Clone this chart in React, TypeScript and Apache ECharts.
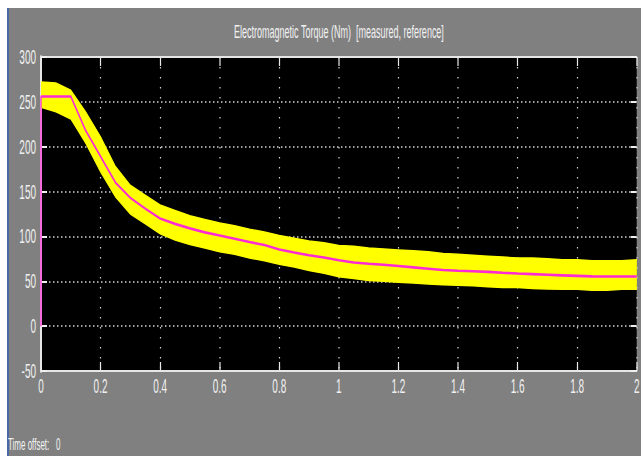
import React, { useEffect, useRef } from "react";
import * as echarts from "echarts";

const titleText = "Electromagnetic Torque (Nm)  [measured, reference]";
const footerText = "Time offset:   0";

const times = [
  0, 0.05, 0.1, 0.15, 0.2, 0.25, 0.3, 0.35, 0.4, 0.45, 0.5, 0.55, 0.6, 0.65, 0.7, 0.75, 0.8, 0.85,
  0.9, 0.95, 1.0, 1.05, 1.1, 1.15, 1.2, 1.25, 1.3, 1.35, 1.4, 1.45, 1.5, 1.55, 1.6, 1.65, 1.7,
  1.75, 1.8, 1.85, 1.9, 1.95, 2.0,
];

const reference = [
  256, 256, 256, 218, 189, 160, 143, 131, 120, 114, 109, 104.5, 101, 97.5, 93.7, 90.5, 85.5, 82,
  79, 76.5, 73.5, 71, 69.5, 68.5, 67, 65.5, 64, 62.5, 61.8, 61.2, 60.5, 59.5, 58.7, 58, 57.3,
  56.6, 56, 55.5, 55.3, 55.3, 55.3,
];

const measuredUpper = [
  272, 271, 263, 239, 211, 178, 157, 146, 135, 129, 123, 119, 115, 112, 108, 105, 101, 98, 95, 93,
  90, 89, 87, 86, 85, 84, 83, 81, 80, 79, 78, 77, 76, 76, 75, 74, 74, 73, 73, 73, 74,
];

const measuredLower = [
  244, 239, 231, 204, 172, 144, 125, 114, 103, 96, 91, 87, 83, 80, 76, 73, 69, 66, 62, 59, 55,
  53, 51, 50, 49, 48, 47, 46, 45.5, 45, 44, 43, 43, 42, 41.5, 41, 41, 40, 40, 41, 41,
];

const referenceStart = 0;

const FONT = "'Liberation Sans', Arial, sans-serif";
// The scope picture is horizontally squeezed; the chart is drawn twice as wide and squeezed back.
const SQUEEZE = 0.5;
const W = 641;
const H = 456;

export default function App() {
  const ref = useRef<HTMLDivElement>(null);

  useEffect(() => {
    if (!ref.current) return;
    const chart = echarts.init(ref.current, undefined, { renderer: "svg" });

    const bandData = times.map((t, i) => [t, measuredUpper[i], measuredLower[i]]);
    const refData = [[0, referenceStart], ...times.map((t, i) => [t, reference[i]])];

    const k = 1 / SQUEEZE;

    const renderBand = (params: any, api: any) => {
      if (params.dataIndex !== 0) return null;
      const top = times.map((t, i) => api.coord([t, measuredUpper[i]]));
      const bottom = times.map((t, i) => api.coord([t, measuredLower[i]])).reverse();
      return {
        type: "polygon",
        shape: { points: [...top, ...bottom] },
        style: { fill: "#ffff00", stroke: "#ffff00", lineWidth: 1.5 },
      };
    };

    const axisLineStyle = { color: "#e6e6e6", width: 2 };

    const option: any = {
      animation: false,
      backgroundColor: "transparent",
      grid: {
        left: 41 * k,
        top: 57,
        right: 3 * k,
        bottom: 85,
        show: true,
        backgroundColor: "#000000",
        borderWidth: 0,
      },
      xAxis: [
        {
          type: "value",
          min: 0,
          max: 2,
          interval: 0.2,
          position: "bottom",
          axisLine: { show: true, onZero: false, lineStyle: axisLineStyle },
          axisTick: { show: true, inside: true, length: 9, lineStyle: { color: "#e8e8e8", width: 1.2 * k } },
          axisLabel: {
            color: "#f0f0f0",
            fontFamily: FONT,
            fontSize: 20,
            margin: 5,
            formatter: (v: number) => String(Math.round(v * 10) / 10),
          },
          splitLine: { show: true, lineStyle: { color: "#cfcfcf", width: 1.2 * k, type: [1.5, 8.5] } },
        },
        {
          type: "value",
          min: 0,
          max: 2,
          interval: 0.2,
          position: "top",
          axisLine: { show: true, onZero: false, lineStyle: axisLineStyle },
          axisTick: { show: true, inside: true, length: 9, lineStyle: { color: "#e8e8e8", width: 1.2 * k } },
          axisLabel: { show: false },
          splitLine: { show: false },
        },
      ],
      yAxis: [
        {
          type: "value",
          min: -50,
          max: 300,
          interval: 50,
          position: "left",
          axisLine: { show: true, onZero: false, lineStyle: { color: "#e6e6e6", width: 2 * k } },
          axisTick: { show: true, inside: true, length: 6 * k, lineStyle: { color: "#f0f0f0", width: 2 } },
          axisLabel: { color: "#f0f0f0", fontFamily: FONT, fontSize: 20, margin: 5 * k },
          splitLine: { show: true, lineStyle: { color: "#d4d4d4", width: 1.5, type: [1.5 * k, 2.5 * k] } },
        },
        {
          type: "value",
          min: -50,
          max: 300,
          interval: 50,
          position: "right",
          axisLine: { show: false, onZero: false },
          axisTick: { show: true, inside: true, length: 6 * k, lineStyle: { color: "#f0f0f0", width: 2 } },
          axisLabel: { show: false },
          splitLine: { show: false },
        },
      ],
      series: [
        {
          name: "measured",
          type: "custom",
          renderItem: renderBand,
          data: bandData,
          encode: { x: 0, y: [1, 2] },
          clip: true,
          silent: true,
          z: 2,
        },
        {
          name: "reference",
          type: "line",
          data: refData,
          symbol: "none",
          lineStyle: { color: "#ff2ad4", width: 2.6 },
          z: 3,
        },
      ],
      graphic: [
        {
          type: "text",
          x: 339 * k,
          y: 32,
          style: {
            text: titleText,
            fill: "#f2f2f2",
            font: `18px ${FONT}`,
            align: "center",
            verticalAlign: "middle",
          },
        },
        {
          type: "text",
          x: 8 * k,
          y: 445,
          style: {
            text: footerText,
            fill: "#f2f2f2",
            font: `16px ${FONT}`,
            align: "left",
            verticalAlign: "middle",
          },
        },
      ],
    };

    chart.setOption(option);
    return () => chart.dispose();
  }, []);

  return (
    <div style={{ position: "fixed", left: 0, top: 0, width: W, height: H, background: "#ffffff", overflow: "hidden" }}>
      <div
        style={{
          position: "absolute",
          left: 7,
          top: 8,
          width: W - 7,
          height: H - 8,
          background: "#808080",
          borderLeft: "2px solid #4a68a6",
          boxSizing: "border-box",
        }}
      />
      <div
        ref={ref}
        style={{
          position: "absolute",
          left: 0,
          top: 0,
          width: W / SQUEEZE,
          height: H,
          transform: `scaleX(${SQUEEZE})`,
          transformOrigin: "0 0",
        }}
      />
    </div>
  );
}
